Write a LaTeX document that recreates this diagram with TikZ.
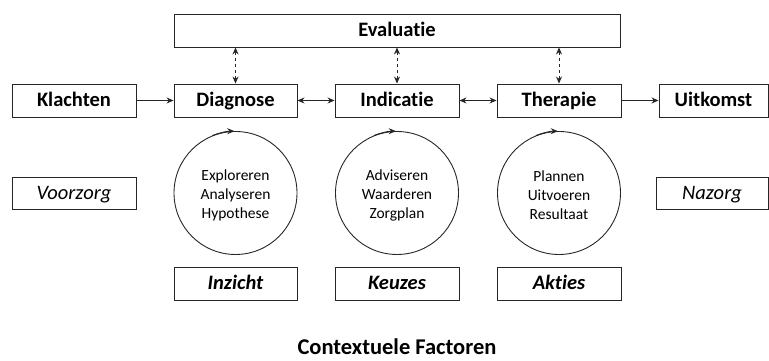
\documentclass[tikz,border=0pt]{standalone}
\usepackage{fontspec}
\setmainfont[Ligatures=NoCommon]{Carlito}
\usetikzlibrary{arrows.meta}
\begin{document}
\begin{tikzpicture}[x=1pt,y=1pt,
  box/.style={draw=black!85, line width=0.9pt, minimum height=33pt, inner sep=0pt, text height=14pt, text depth=1pt, font=\fontsize{20.5}{24}\selectfont\bfseries},
  ibox/.style={draw=black!85, line width=0.9pt, minimum height=32pt, inner sep=0pt, text height=14pt, text depth=1pt, font=\fontsize{20.5}{24}\selectfont\itshape},
  bibox/.style={box, font=\fontsize{20.5}{24}\selectfont\bfseries\itshape},
  circ/.style={draw=black!85, line width=0.9pt, circle, minimum size=123pt, inner sep=0pt},
  ctext/.style={inner sep=0pt, align=center, font=\fontsize{15.5}{19}\selectfont},
  arr/.style={line width=0.9pt, draw=black!85, -{Stealth[length=7pt,width=6pt]}},
  darr/.style={line width=0.9pt, draw=black!85, dashed, {Stealth[length=7pt,width=6pt]}-{Stealth[length=7pt,width=6pt]}},
  barr/.style={line width=0.9pt, draw=black!85, {Stealth[length=7pt,width=6pt]}-{Stealth[length=7pt,width=6pt]}}
]
\useasboundingbox (0,0) rectangle (769,361);
\node[box, minimum width=446pt] (eval) at (397,330.5) {Evaluatie};
\node[box, minimum width=124pt] (kla) at (74,260.5) {Klachten};
\node[box, minimum width=123pt] (diag) at (235.5,260.5) {Diagnose};
\node[box, minimum width=124pt] (ind) at (397,260.5) {Indicatie};
\node[box, minimum width=124pt] (ther) at (559,260.5) {Therapie};
\node[box, minimum width=109pt] (uit) at (713.5,260.5) {Uitkomst};
\node[ibox, minimum width=124pt] (voor) at (74,168) {Voorzorg};
\node[ibox, minimum width=112pt] (naz) at (712,168) {Nazorg};
\node[circ] (c1) at (235.5,168) {};
\node[circ] (c2) at (397,168) {};
\node[circ] (c3) at (559,168) {};
\node[ctext] (t1) at ([yshift=-2pt]c1.center) {Exploreren\\Analyseren\\Hypothese};
\node[ctext] (t2) at ([yshift=-2pt]c2.center) {Adviseren\\Waarderen\\Zorgplan};
\node[ctext] (t3) at ([yshift=-2pt]c3.center) {Plannen\\Uitvoeren\\Resultaat};
\node[bibox, minimum width=123pt] (inz) at (235.5,77.5) {Inzicht};
\node[bibox, minimum width=124pt] (keu) at (397,77.5) {Keuzes};
\node[bibox, minimum width=124pt] (akt) at (559,77.5) {Akties};
\node[inner sep=0pt, text height=15pt, text depth=1pt, font=\fontsize{22.5}{26}\selectfont\bfseries] (ctx) at (397,13) {Contextuele Factoren};
\draw[arr] (kla) -- (diag);
\draw[barr] (diag) -- (ind);
\draw[barr] (ind) -- (ther);
\draw[arr] (ther) -- (uit);
\draw[darr] (diag.north |- eval.south) -- (diag.north);
\draw[darr] (ind.north |- eval.south) -- (ind.north);
\draw[darr] (ther.north |- eval.south) -- (ther.north);
\foreach \c in {c1,c2,c3}
  \draw[arr] (\c.112) arc[start angle=112, end angle=91, radius=61.5pt];
\end{tikzpicture}
\end{document}
